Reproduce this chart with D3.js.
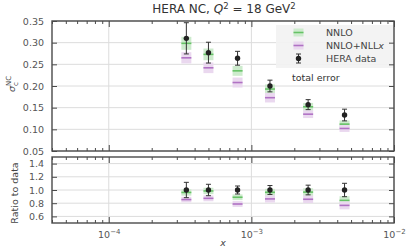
<!DOCTYPE html>
<html><head><meta charset="utf-8">
<script src="https://cdn.jsdelivr.net/npm/d3@7"></script>
<style>
body{margin:0;background:#fff;}
svg text{font-family:"DejaVu Sans",sans-serif;}
</style></head>
<body><svg id="c" width="408" height="250"></svg>
<script>
// ---- data ----
const xVals = [3.5e-4, 5.0e-4, 8.0e-4, 1.35e-3, 2.5e-3, 4.5e-3];
const dataVals = [0.310, 0.277, 0.264, 0.200, 0.157, 0.133];
const dataErr = [0.036, 0.024, 0.016, 0.0135, 0.0115, 0.0135];
const nnloVals = [0.2985, 0.273, 0.235, 0.193, 0.152, 0.112];
const nnloErr = [0.015, 0.0135, 0.0115, 0.0105, 0.009, 0.0085];
const nllxVals = [0.2650, 0.242, 0.208, 0.173, 0.135, 0.102];
const nllxErr = [0.013, 0.0123, 0.0115, 0.011, 0.009, 0.008];
const topTicks = [0.05, 0.10, 0.15, 0.20, 0.25, 0.30, 0.35];
const ratioTicks = [0.6, 0.8, 1.0, 1.2, 1.4];
const xMajor = [1e-4, 1e-3, 1e-2];
const legendLabels = ["NNLO", "NNLO+NLLx", "HERA data"];

const svg = d3.select("#c");
const L = 52, R = 394;
const x = d3.scaleLog().domain([4e-5, 1e-2]).range([L, R]);
const yT = d3.scaleLinear().domain([0.05, 0.35]).range([151, 21]);
const yB = d3.scaleLinear().domain([0.5, 1.5]).range([223, 157]);

const gridC = "#dcdcdc", axC = "#4a4a4a", txtC = "#555";
const green = "#66c266", greenF = "#cdebcd", purple = "#b072c4", purpleF = "#ead8ef";

function panel(y, ticks) {
  const g = svg.append("g");
  const [y0, y1] = y.range();
  g.selectAll(".gh").data(ticks).join("line")
    .attr("x1", L).attr("x2", R).attr("y1", d => y(d)).attr("y2", d => y(d))
    .attr("stroke", gridC).attr("stroke-width", 1);
  g.selectAll(".gv").data(xMajor).join("line")
    .attr("x1", d => x(d)).attr("x2", d => x(d)).attr("y1", y0).attr("y2", y1)
    .attr("stroke", gridC).attr("stroke-width", 1);
  return g;
}

function frame(y, ticks, fmt, xLabels) {
  const g = svg.append("g");
  const [y0, y1] = y.range();
  const minor = x.ticks().filter(d => !xMajor.some(m => Math.abs(m - d) / m < 1e-6));
  const addX = (yy, gen, vals, size) => {
    const a = g.append("g").attr("transform", `translate(0,${yy})`)
      .call(gen(x).tickValues(vals).tickSize(size).tickFormat(""));
    a.select(".domain").remove();
    a.selectAll("line").attr("stroke", axC).attr("stroke-width", 1);
    return a;
  };
  addX(y0, d3.axisBottom, minor, -3);
  addX(y0, d3.axisBottom, xMajor, -6);
  addX(y1, d3.axisTop, minor, -3);
  addX(y1, d3.axisTop, xMajor, -6);
  const ax = g.append("g").attr("transform", `translate(${L},0)`)
    .call(d3.axisLeft(y).tickValues(ticks).tickSize(-5).tickPadding(8).tickFormat(fmt));
  ax.select(".domain").remove();
  ax.selectAll("line").attr("stroke", axC);
  ax.selectAll("text").attr("fill", txtC).style("font-size", "9.5px").attr("font-family", "DejaVu Sans");
  const ar = g.append("g").attr("transform", `translate(${R},0)`)
    .call(d3.axisRight(y).tickValues(ticks).tickSize(-5).tickFormat(""));
  ar.select(".domain").remove();
  ar.selectAll("line").attr("stroke", axC);
  g.append("rect").attr("x", L).attr("y", y1).attr("width", R - L).attr("height", y0 - y1)
    .attr("fill", "none").attr("stroke", axC).attr("stroke-width", 1.4);
  if (xLabels) {
    const lab = g.append("g").attr("transform", `translate(0,${y0})`)
      .call(d3.axisBottom(x).tickValues(xMajor).tickSize(0).tickPadding(9).tickFormat(""));
    lab.select(".domain").remove();
    lab.selectAll(".tick").append("text")
      .attr("y", 14.5).attr("text-anchor", "middle").attr("fill", txtC).style("font-size", "9.5px")
      .each(function (d) {
        const t = d3.select(this);
        t.append("tspan").text("10");
        t.append("tspan").attr("dy", -4).style("font-size", "7px").text("\u2212" + Math.round(-Math.log10(d)));
      });
  }
}

function marks(y, vals, errs, gF, gC) {
  const hw = 5;
  const g = svg.append("g");
  g.selectAll("rect").data(vals).join("rect")
    .attr("x", (d, i) => x(xVals[i]) - hw).attr("width", 2 * hw)
    .attr("y", (d, i) => y(d + errs[i])).attr("height", (d, i) => y(d - errs[i]) - y(d + errs[i]))
    .attr("fill", gF);
  g.selectAll("line").data(vals).join("line")
    .attr("x1", (d, i) => x(xVals[i]) - hw).attr("x2", (d, i) => x(xVals[i]) + hw)
    .attr("y1", d => y(d)).attr("y2", d => y(d)).attr("stroke", gC).attr("stroke-width", 1.6);
}

function dataMarks(y, vals, errs) {
  const g = svg.append("g");
  vals.forEach((d, i) => {
    const cx = x(xVals[i]);
    const t = y(d + errs[i]), b = y(d - errs[i]);
    g.append("line").attr("x1", cx).attr("x2", cx).attr("y1", t).attr("y2", b).attr("stroke", "#333").attr("stroke-width", 1);
    [t, b].forEach(yy => g.append("line").attr("x1", cx - 2.5).attr("x2", cx + 2.5).attr("y1", yy).attr("y2", yy).attr("stroke", "#333").attr("stroke-width", 1));
    g.append("circle").attr("cx", cx).attr("cy", y(d)).attr("r", 2.7).attr("fill", "#222");
  });
}

// top panel
panel(yT, topTicks);
marks(yT, nnloVals, nnloErr, greenF, green);
marks(yT, nllxVals, nllxErr, purpleF, purple);
dataMarks(yT, dataVals, dataErr);

// legend
const lg = svg.append("g");
lg.append("rect").attr("x", 276).attr("y", 25).attr("width", 117).attr("height", 43).attr("fill", "#f2f2f2").attr("opacity", 0.92);
const lys = [32.5, 45.5, 58.5];
[[greenF, green], [purpleF, purple]].forEach((c, i) => {
  lg.append("rect").attr("x", 293.5).attr("y", lys[i] - 4).attr("width", 10).attr("height", 8).attr("fill", c[0]);
  lg.append("line").attr("x1", 293.5).attr("x2", 303.5).attr("y1", lys[i]).attr("y2", lys[i]).attr("stroke", c[1]).attr("stroke-width", 1.6);
});
lg.append("line").attr("x1", 298.5).attr("x2", 298.5).attr("y1", lys[2] - 4.5).attr("y2", lys[2] + 4.5).attr("stroke", "#333");
[lys[2] - 4.5, lys[2] + 4.5].forEach(yy => lg.append("line").attr("x1", 296).attr("x2", 301).attr("y1", yy).attr("y2", yy).attr("stroke", "#333"));
lg.append("circle").attr("cx", 298.5).attr("cy", lys[2]).attr("r", 2.7).attr("fill", "#222");
legendLabels.forEach((t, i) => {
  const tx = lg.append("text").attr("x", 326).attr("y", lys[i] + 3.4).attr("fill", "#444").style("font-size", "9.5px");
  if (t.endsWith("x")) { tx.append("tspan").text(t.slice(0, -1)); tx.append("tspan").attr("font-style", "italic").text("x"); }
  else tx.text(t);
});
lg.append("text").attr("x", 292).attr("y", 80.5).attr("fill", "#333").style("font-size", "9.5px").text("total error");

frame(yT, topTicks, d3.format(".2f"), false);

// bottom panel
panel(yB, ratioTicks);
const ratio = (v, i) => v / dataVals[i];
marks(yB, nnloVals.map(ratio), nnloErr.map(ratio), greenF, green);
marks(yB, nllxVals.map(ratio), nllxErr.map(ratio), purpleF, purple);
dataMarks(yB, dataVals.map(ratio), dataErr.map(ratio));
frame(yB, ratioTicks, d3.format(".1f"), true);

// title and labels
const title = svg.append("text").attr("x", 224).attr("y", 13).attr("text-anchor", "middle").attr("fill", "#333").style("font-size", "12px");
title.append("tspan").text("HERA NC, ");
title.append("tspan").attr("font-style", "italic").text("Q");
title.append("tspan").attr("dy", -4).style("font-size", "8.5px").text("2");
title.append("tspan").attr("dy", 4).text(" = 18 GeV");
title.append("tspan").attr("dy", -4).style("font-size", "8.5px").text("2");

const yl = svg.append("text").attr("transform", "translate(15,84) rotate(-90)").attr("text-anchor", "middle").attr("fill", "#444").style("font-size", "9.5px");
yl.append("tspan").attr("font-style", "italic").text("\u03c3");
yl.append("tspan").attr("dy", 2.5).style("font-size", "7px").text("c");
yl.append("tspan").attr("dx", -4).attr("dy", -7).style("font-size", "7px").text("NC");

svg.append("text").attr("transform", "translate(18,193) rotate(-90)").attr("text-anchor", "middle").attr("fill", "#444").style("font-size", "9.5px").text("Ratio to data");
svg.append("text").attr("x", 223).attr("y", 246).attr("text-anchor", "middle").attr("fill", "#444").attr("font-style", "italic").style("font-size", "9.5px").text("x");
</script></body></html>
